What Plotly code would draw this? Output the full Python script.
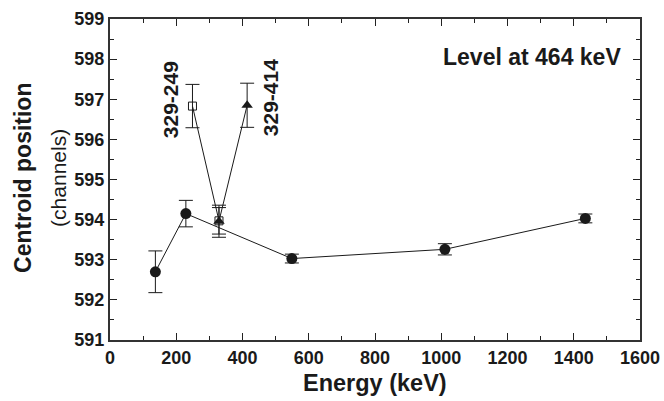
import plotly.graph_objects as go

# Main series (filled circles)
main_E = [137, 229, 549, 1011, 1435]
main_y = [592.70, 594.15, 593.03, 593.26, 594.03]
main_err = [0.52, 0.33, 0.11, 0.14, 0.11]

# 329-249 pair (open squares)
sq_E = [249, 329]
sq_y = [596.83, 593.97]
sq_err = [0.54, 0.33]

# 329-414 pair (filled triangles)
tri_E = [329, 414]
tri_y = [593.96, 596.85]
tri_err = [0.40, 0.55]

x_ticks = [0, 200, 400, 600, 800, 1000, 1200, 1400, 1600]
y_ticks = [591, 592, 593, 594, 595, 596, 597, 598, 599]

FONT = "Liberation Sans"
INK = "#1a1a1a"

def err(vals):
    return dict(type="data", array=vals, visible=True, color=INK, thickness=1, width=7)

fig = go.Figure()
fig.add_trace(go.Scatter(x=sq_E, y=sq_y, mode="lines+markers", error_y=err(sq_err),
                         line=dict(color=INK, width=1),
                         marker=dict(symbol="square-open", size=8, color=INK, line=dict(width=1, color=INK)),
                         showlegend=False))
fig.add_trace(go.Scatter(x=tri_E, y=tri_y, mode="lines+markers", error_y=err(tri_err),
                         line=dict(color=INK, width=1),
                         marker=dict(symbol="triangle-up", size=10, color=INK),
                         showlegend=False))
fig.add_trace(go.Scatter(x=main_E, y=main_y, mode="lines+markers", error_y=err(main_err),
                         line=dict(color=INK, width=1),
                         marker=dict(symbol="circle", size=11, color=INK),
                         showlegend=False))

axis_common = dict(showgrid=False, zeroline=False, showline=True, linecolor="#333", linewidth=2,
                   mirror="ticks", ticks="inside", ticklen=7, tickwidth=1.3, tickcolor="#222",
                   automargin=False,
                   tickfont=dict(family=FONT, size=18, color=INK, weight=700))
fig.update_xaxes(range=[0, 1600], tickvals=x_ticks, ticktext=[f"<b>{v}</b>" for v in x_ticks],
                 minor=dict(ticks="inside", ticklen=4, tickwidth=1, tickcolor="#222", dtick=100),
                 **axis_common)
fig.update_yaxes(range=[591, 599], tickvals=y_ticks, ticktext=[f"<b>{v}</b>" for v in y_ticks],
                 minor=dict(ticks="inside", ticklen=4, tickwidth=1, tickcolor="#222", dtick=0.5),
                 **axis_common)

ann = []
ann.append(dict(text="<b>Level at 464 keV</b>", xref="paper", yref="paper", x=0.968, y=0.882,
                xanchor="right", yanchor="middle", showarrow=False,
                font=dict(family=FONT, size=23, color=INK)))
ann.append(dict(text="<b>329-249</b>", x=181, y=597.0, xref="x", yref="y", textangle=-90,
                showarrow=False, font=dict(family=FONT, size=21, color=INK)))
ann.append(dict(text="<b>329-414</b>", x=483, y=597.05, xref="x", yref="y", textangle=-90,
                showarrow=False, font=dict(family=FONT, size=21, color=INK)))
ann.append(dict(text="<b>Energy (keV)</b>", xref="paper", yref="paper", x=0.5, y=-0.134,
                xanchor="center", yanchor="middle", showarrow=False,
                font=dict(family=FONT, size=23.5, color=INK)))
ann.append(dict(text="<b>Centroid position</b>", xref="paper", yref="paper", x=(23 - 110) / 530, y=0.505,
                xanchor="center", yanchor="middle", textangle=-90, showarrow=False,
                font=dict(family=FONT, size=23, color=INK)))
ann.append(dict(text="(channels)", xref="paper", yref="paper", x=(59 - 110) / 530, y=0.505,
                xanchor="center", yanchor="middle", textangle=-90, showarrow=False,
                font=dict(family=FONT, size=21, color=INK)))

fig.update_layout(width=664, height=401, margin=dict(l=110, r=24, t=19, b=61),
                  paper_bgcolor="white", plot_bgcolor="white", annotations=ann)

fig.write_html("out.html")
